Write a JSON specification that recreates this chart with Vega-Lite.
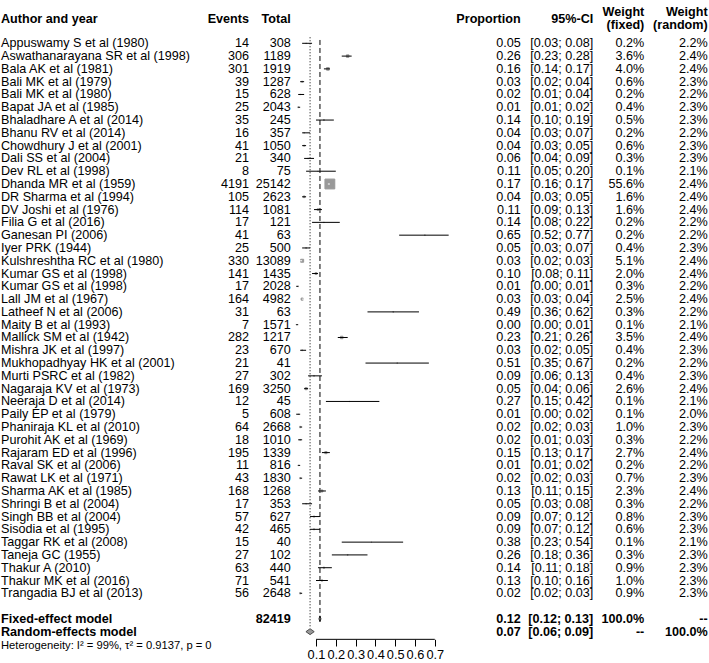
{
  "$schema": "https://vega.github.io/schema/vega-lite/v6.json",
  "width": 709,
  "height": 663,
  "autosize": {"type": "fit", "contains": "padding"},
  "padding": 0,
  "background": "white",
  "config": {
    "view": {"stroke": null},
    "font": "Liberation Sans",
    "text": {"font": "Liberation Sans", "fontSize": 12.6, "color": "black", "baseline": "middle"}
  },
  "datasets": {
    "rows": [
      {"row": 0, "author": "Appuswamy S et al (1980)", "events": 14, "total": 308, "prop": 0.05, "lo": 0.03, "hi": 0.08, "wf": 0.2, "wr": 2.2},
      {"row": 1, "author": "Aswathanarayana SR et al (1998)", "events": 306, "total": 1189, "prop": 0.26, "lo": 0.23, "hi": 0.28, "wf": 3.6, "wr": 2.4},
      {"row": 2, "author": "Bala AK et al (1981)", "events": 301, "total": 1919, "prop": 0.16, "lo": 0.14, "hi": 0.17, "wf": 4.0, "wr": 2.4},
      {"row": 3, "author": "Bali MK et al (1979)", "events": 39, "total": 1287, "prop": 0.03, "lo": 0.02, "hi": 0.04, "wf": 0.6, "wr": 2.3},
      {"row": 4, "author": "Bali MK et al (1980)", "events": 15, "total": 628, "prop": 0.02, "lo": 0.01, "hi": 0.04, "wf": 0.2, "wr": 2.2},
      {"row": 5, "author": "Bapat JA et al (1985)", "events": 25, "total": 2043, "prop": 0.01, "lo": 0.01, "hi": 0.02, "wf": 0.4, "wr": 2.3},
      {"row": 6, "author": "Bhaladhare A et al (2014)", "events": 35, "total": 245, "prop": 0.14, "lo": 0.10, "hi": 0.19, "wf": 0.5, "wr": 2.3},
      {"row": 7, "author": "Bhanu RV et al (2014)", "events": 16, "total": 357, "prop": 0.04, "lo": 0.03, "hi": 0.07, "wf": 0.2, "wr": 2.2},
      {"row": 8, "author": "Chowdhury J et al (2001)", "events": 41, "total": 1050, "prop": 0.04, "lo": 0.03, "hi": 0.05, "wf": 0.6, "wr": 2.3},
      {"row": 9, "author": "Dali SS et al (2004)", "events": 21, "total": 340, "prop": 0.06, "lo": 0.04, "hi": 0.09, "wf": 0.3, "wr": 2.3},
      {"row": 10, "author": "Dev RL et al (1998)", "events": 8, "total": 75, "prop": 0.11, "lo": 0.05, "hi": 0.20, "wf": 0.1, "wr": 2.1},
      {"row": 11, "author": "Dhanda MR et al (1959)", "events": 4191, "total": 25142, "prop": 0.17, "lo": 0.16, "hi": 0.17, "wf": 55.6, "wr": 2.4},
      {"row": 12, "author": "DR Sharma et al (1994)", "events": 105, "total": 2623, "prop": 0.04, "lo": 0.03, "hi": 0.05, "wf": 1.6, "wr": 2.4},
      {"row": 13, "author": "DV Joshi et al (1976)", "events": 114, "total": 1081, "prop": 0.11, "lo": 0.09, "hi": 0.13, "wf": 1.6, "wr": 2.4},
      {"row": 14, "author": "Filia G et al (2016)", "events": 17, "total": 121, "prop": 0.14, "lo": 0.08, "hi": 0.22, "wf": 0.2, "wr": 2.2},
      {"row": 15, "author": "Ganesan PI (2006)", "events": 41, "total": 63, "prop": 0.65, "lo": 0.52, "hi": 0.77, "wf": 0.2, "wr": 2.2},
      {"row": 16, "author": "Iyer PRK (1944)", "events": 25, "total": 500, "prop": 0.05, "lo": 0.03, "hi": 0.07, "wf": 0.4, "wr": 2.3},
      {"row": 17, "author": "Kulshreshtha RC et al (1980)", "events": 330, "total": 13089, "prop": 0.03, "lo": 0.02, "hi": 0.03, "wf": 5.1, "wr": 2.4},
      {"row": 18, "author": "Kumar GS et al (1998)", "events": 141, "total": 1435, "prop": 0.10, "lo": 0.08, "hi": 0.11, "wf": 2.0, "wr": 2.4},
      {"row": 19, "author": "Kumar GS et al (1998)", "events": 17, "total": 2028, "prop": 0.01, "lo": 0.00, "hi": 0.01, "wf": 0.3, "wr": 2.2},
      {"row": 20, "author": "Lall JM et al (1967)", "events": 164, "total": 4982, "prop": 0.03, "lo": 0.03, "hi": 0.04, "wf": 2.5, "wr": 2.4},
      {"row": 21, "author": "Latheef N et al (2006)", "events": 31, "total": 63, "prop": 0.49, "lo": 0.36, "hi": 0.62, "wf": 0.3, "wr": 2.2},
      {"row": 22, "author": "Maity B et al (1993)", "events": 7, "total": 1571, "prop": 0.00, "lo": 0.00, "hi": 0.01, "wf": 0.1, "wr": 2.1},
      {"row": 23, "author": "Mallick SM et al (1942)", "events": 282, "total": 1217, "prop": 0.23, "lo": 0.21, "hi": 0.26, "wf": 3.5, "wr": 2.4},
      {"row": 24, "author": "Mishra JK et al (1997)", "events": 23, "total": 670, "prop": 0.03, "lo": 0.02, "hi": 0.05, "wf": 0.4, "wr": 2.3},
      {"row": 25, "author": "Mukhopadhyay HK et al (2001)", "events": 21, "total": 41, "prop": 0.51, "lo": 0.35, "hi": 0.67, "wf": 0.2, "wr": 2.2},
      {"row": 26, "author": "Murti PSRC et al (1982)", "events": 27, "total": 302, "prop": 0.09, "lo": 0.06, "hi": 0.13, "wf": 0.4, "wr": 2.3},
      {"row": 27, "author": "Nagaraja KV et al (1973)", "events": 169, "total": 3250, "prop": 0.05, "lo": 0.04, "hi": 0.06, "wf": 2.6, "wr": 2.4},
      {"row": 28, "author": "Neeraja D et al (2014)", "events": 12, "total": 45, "prop": 0.27, "lo": 0.15, "hi": 0.42, "wf": 0.1, "wr": 2.1},
      {"row": 29, "author": "Paily EP et al (1979)", "events": 5, "total": 608, "prop": 0.01, "lo": 0.00, "hi": 0.02, "wf": 0.1, "wr": 2.0},
      {"row": 30, "author": "Phaniraja KL et al (2010)", "events": 64, "total": 2668, "prop": 0.02, "lo": 0.02, "hi": 0.03, "wf": 1.0, "wr": 2.3},
      {"row": 31, "author": "Purohit AK et al (1969)", "events": 18, "total": 1010, "prop": 0.02, "lo": 0.01, "hi": 0.03, "wf": 0.3, "wr": 2.2},
      {"row": 32, "author": "Rajaram ED et al (1996)", "events": 195, "total": 1339, "prop": 0.15, "lo": 0.13, "hi": 0.17, "wf": 2.7, "wr": 2.4},
      {"row": 33, "author": "Raval SK et al (2006)", "events": 11, "total": 816, "prop": 0.01, "lo": 0.01, "hi": 0.02, "wf": 0.2, "wr": 2.2},
      {"row": 34, "author": "Rawat LK et al (1971)", "events": 43, "total": 1830, "prop": 0.02, "lo": 0.02, "hi": 0.03, "wf": 0.7, "wr": 2.3},
      {"row": 35, "author": "Sharma AK et al (1985)", "events": 168, "total": 1268, "prop": 0.13, "lo": 0.11, "hi": 0.15, "wf": 2.3, "wr": 2.4},
      {"row": 36, "author": "Shringi B et al (2004)", "events": 17, "total": 353, "prop": 0.05, "lo": 0.03, "hi": 0.08, "wf": 0.3, "wr": 2.2},
      {"row": 37, "author": "Singh BB et al (2004)", "events": 57, "total": 627, "prop": 0.09, "lo": 0.07, "hi": 0.12, "wf": 0.8, "wr": 2.3},
      {"row": 38, "author": "Sisodia et al (1995)", "events": 42, "total": 465, "prop": 0.09, "lo": 0.07, "hi": 0.12, "wf": 0.6, "wr": 2.3},
      {"row": 39, "author": "Taggar RK et al (2008)", "events": 15, "total": 40, "prop": 0.38, "lo": 0.23, "hi": 0.54, "wf": 0.1, "wr": 2.1},
      {"row": 40, "author": "Taneja GC (1955)", "events": 27, "total": 102, "prop": 0.26, "lo": 0.18, "hi": 0.36, "wf": 0.3, "wr": 2.3},
      {"row": 41, "author": "Thakur A (2010)", "events": 63, "total": 440, "prop": 0.14, "lo": 0.11, "hi": 0.18, "wf": 0.9, "wr": 2.3},
      {"row": 42, "author": "Thakur MK et al (2016)", "events": 71, "total": 541, "prop": 0.13, "lo": 0.10, "hi": 0.16, "wf": 1.0, "wr": 2.3},
      {"row": 43, "author": "Trangadia BJ et al (2013)", "events": 56, "total": 2648, "prop": 0.02, "lo": 0.02, "hi": 0.03, "wf": 0.9, "wr": 2.3},
      {"row": 45, "author": "Fixed-effect model", "total": 82419, "prop": 0.12, "lo": 0.12, "hi": 0.13, "wf": 100.0, "wr": null},
      {"row": 46, "author": "Random-effects model", "total": null, "prop": 0.07, "lo": 0.06, "hi": 0.09, "wf": null, "wr": 100.0}
    ],
    "headers": [
      {"col": "author", "label": "Author and year"},
      {"col": "events", "label": "Events"},
      {"col": "total", "label": "Total"},
      {"col": "prop", "label": "Proportion"},
      {"col": "ci", "label": "95%-CI"},
      {"col": "wf", "label": ["Weight", "(fixed)"]},
      {"col": "wr", "label": ["Weight", "(random)"]}
    ],
    "notes": [
      {"label": "Heterogeneity: I² = 99%, τ² = 0.9137, p = 0"}
    ]
  },
  "resolve": {"scale": {"x": "independent"}, "axis": {"x": "independent"}},
  "layer": [
    {
      "layer": [
        {
          "data": {"name": "rows"},
          "transform": [{"filter": "datum.row == 46"}],
          "mark": {"type": "rule", "color": "black", "strokeWidth": 1, "strokeDash": [1, 2]},
          "encoding": {
            "x": {"field": "prop", "type": "quantitative",
              "scale": {"domain": [-1.496, 2.0848], "nice": false, "zero": false},
              "axis": {"orient": "bottom", "offset": -23.7, "values": [0.1, 0.2, 0.3, 0.4, 0.5, 0.6, 0.7], "format": ".1f",
                "domain": false, "grid": false, "title": null, "ticks": true, "tickColor": "black", "tickSize": 6.7, "tickWidth": 1,
                "labelFont": "Liberation Sans", "labelFontSize": 12.8, "labelColor": "black", "labelPadding": 2,
                "labelOverlap": false, "labelFlush": false, "labelBound": false}},
            "y": {"datum": -0.47, "type": "quantitative",
              "scale": {"domain": [-3.386, 48.45], "reverse": true, "nice": false, "zero": false}, "axis": null},
            "y2": {"datum": 45.72}
          }
        },
        {
          "data": {"name": "rows"},
          "transform": [{"filter": "datum.row == 45"}],
          "mark": {"type": "rule", "color": "black", "strokeWidth": 1, "strokeDash": [5, 3]},
          "encoding": {
            "x": {"field": "prop", "type": "quantitative"},
            "y": {"datum": -0.26, "type": "quantitative"},
            "y2": {"datum": 45.22}
          }
        },
        {
          "data": {"name": "rows"},
          "transform": [{"filter": "datum.row <= 43"}],
          "mark": {"type": "square", "filled": true, "color": "#999999", "stroke": "#999999", "strokeWidth": 1, "opacity": 1},
          "encoding": {
            "x": {"field": "prop", "type": "quantitative"},
            "y": {"field": "row", "type": "quantitative"},
            "size": {"field": "wf", "type": "quantitative", "scale": {"domain": [0, 55.6], "range": [0, 97], "zero": true}, "legend": null}
          }
        },
        {
          "data": {"name": "rows"},
          "transform": [{"filter": "datum.row <= 43"}],
          "mark": {"type": "rule", "strokeWidth": 1},
          "encoding": {
            "x": {"field": "lo", "type": "quantitative"},
            "x2": {"field": "hi"},
            "y": {"field": "row", "type": "quantitative"},
            "color": {"condition": {"test": "datum.hi - datum.lo < 0.015 && datum.wf > 2", "value": "white"}, "value": "black"}
          }
        },
        {
          "data": {"name": "rows"},
          "transform": [{"filter": "datum.row == 45"}],
          "mark": {"type": "point", "shape": "M-1,0L0,-3L1,0L0,3Z", "size": 4, "filled": true, "fill": "#999999", "stroke": "black", "strokeWidth": 0.8, "opacity": 1},
          "encoding": {
            "x": {"field": "prop", "type": "quantitative"},
            "y": {"field": "row", "type": "quantitative"}
          }
        },
        {
          "data": {"name": "rows"},
          "transform": [{"filter": "datum.row == 46"}],
          "mark": {"type": "point", "shape": "M-1,0L0,-0.72L1,0L0,0.72Z", "size": 69, "filled": true, "fill": "#999999", "stroke": "#333333", "strokeWidth": 0.8, "opacity": 1},
          "encoding": {
            "x": {"field": "prop", "type": "quantitative"},
            "y": {"field": "row", "type": "quantitative"}
          }
        },
        {
          "data": {"name": "notes"},
          "mark": {"type": "rule", "color": "black", "strokeWidth": 1},
          "encoding": {
            "x": {"datum": 0.1, "type": "quantitative"},
            "x2": {"datum": 0.7},
            "y": {"datum": 46.6, "type": "quantitative"}
          }
        }
      ]
    },
    {
      "layer": [
        {
          "data": {"name": "rows"},
          "mark": {"type": "text", "align": "left", "fontWeight": {"expr": "datum.row >= 45 ? 'bold' : 'normal'"}},
          "encoding": {
            "x": {"datum": 1, "type": "quantitative", "scale": {"domain": [0, 709], "nice": false, "zero": false}, "axis": null},
            "y": {"field": "row", "type": "quantitative"},
            "text": {"field": "author"}
          }
        },
        {
          "data": {"name": "rows"},
          "transform": [{"filter": "datum.events != null"}],
          "mark": {"type": "text", "align": "right"},
          "encoding": {
            "x": {"datum": 249, "type": "quantitative", "axis": null},
            "y": {"field": "row", "type": "quantitative"},
            "text": {"field": "events", "type": "quantitative", "format": "d"}
          }
        },
        {
          "data": {"name": "rows"},
          "transform": [{"filter": "datum.total != null"}],
          "mark": {"type": "text", "align": "right", "fontWeight": {"expr": "datum.row >= 45 ? 'bold' : 'normal'"}},
          "encoding": {
            "x": {"datum": 290.7, "type": "quantitative", "axis": null},
            "y": {"field": "row", "type": "quantitative"},
            "text": {"field": "total", "type": "quantitative", "format": "d"}
          }
        },
        {
          "data": {"name": "rows"},
          "mark": {"type": "text", "align": "right", "fontWeight": {"expr": "datum.row >= 45 ? 'bold' : 'normal'"}},
          "encoding": {
            "x": {"datum": 520.7, "type": "quantitative", "axis": null},
            "y": {"field": "row", "type": "quantitative"},
            "text": {"field": "prop", "type": "quantitative", "format": ".2f"}
          }
        },
        {
          "data": {"name": "rows"},
          "transform": [{"calculate": "'[' + format(datum.lo, '.2f') + '; ' + format(datum.hi, '.2f') + ']'", "as": "ci"}],
          "mark": {"type": "text", "align": "right", "fontWeight": {"expr": "datum.row >= 45 ? 'bold' : 'normal'"}},
          "encoding": {
            "x": {"datum": 593.3, "type": "quantitative", "axis": null},
            "y": {"field": "row", "type": "quantitative"},
            "text": {"field": "ci"}
          }
        },
        {
          "data": {"name": "rows"},
          "transform": [{"calculate": "datum.wf == null ? '--' : format(datum.wf, '.1f') + '%'", "as": "wfs"}],
          "mark": {"type": "text", "align": "right", "fontWeight": {"expr": "datum.row >= 45 ? 'bold' : 'normal'"}},
          "encoding": {
            "x": {"datum": 644.3, "type": "quantitative", "axis": null},
            "y": {"field": "row", "type": "quantitative"},
            "text": {"field": "wfs"}
          }
        },
        {
          "data": {"name": "rows"},
          "transform": [{"calculate": "datum.wr == null ? '--' : format(datum.wr, '.1f') + '%'", "as": "wrs"}],
          "mark": {"type": "text", "align": "right", "fontWeight": {"expr": "datum.row >= 45 ? 'bold' : 'normal'"}},
          "encoding": {
            "x": {"datum": 707.7, "type": "quantitative", "axis": null},
            "y": {"field": "row", "type": "quantitative"},
            "text": {"field": "wrs"}
          }
        },
        {
          "data": {"name": "headers"},
          "transform": [{"filter": "datum.col == 'author'"}],
          "mark": {"type": "text", "align": "left", "fontWeight": "bold"},
          "encoding": {
            "x": {"datum": 1, "type": "quantitative", "axis": null},
            "y": {"datum": -1.9, "type": "quantitative"},
            "text": {"field": "label"}
          }
        },
        {
          "data": {"name": "headers"},
          "transform": [{"filter": "datum.col == 'events'"}],
          "mark": {"type": "text", "align": "right", "fontWeight": "bold"},
          "encoding": {
            "x": {"datum": 249, "type": "quantitative", "axis": null},
            "y": {"datum": -1.9, "type": "quantitative"},
            "text": {"field": "label"}
          }
        },
        {
          "data": {"name": "headers"},
          "transform": [{"filter": "datum.col == 'total'"}],
          "mark": {"type": "text", "align": "right", "fontWeight": "bold"},
          "encoding": {
            "x": {"datum": 290.7, "type": "quantitative", "axis": null},
            "y": {"datum": -1.9, "type": "quantitative"},
            "text": {"field": "label"}
          }
        },
        {
          "data": {"name": "headers"},
          "transform": [{"filter": "datum.col == 'prop'"}],
          "mark": {"type": "text", "align": "right", "fontWeight": "bold"},
          "encoding": {
            "x": {"datum": 520.7, "type": "quantitative", "axis": null},
            "y": {"datum": -1.9, "type": "quantitative"},
            "text": {"field": "label"}
          }
        },
        {
          "data": {"name": "headers"},
          "transform": [{"filter": "datum.col == 'ci'"}],
          "mark": {"type": "text", "align": "right", "fontWeight": "bold"},
          "encoding": {
            "x": {"datum": 593.3, "type": "quantitative", "axis": null},
            "y": {"datum": -1.9, "type": "quantitative"},
            "text": {"field": "label"}
          }
        },
        {
          "data": {"name": "headers"},
          "transform": [{"filter": "datum.col == 'wf'"}],
          "mark": {"type": "text", "align": "right", "fontWeight": "bold", "lineHeight": 12.7},
          "encoding": {
            "x": {"datum": 644.3, "type": "quantitative", "axis": null},
            "y": {"datum": -2.45, "type": "quantitative"},
            "text": {"field": "label"}
          }
        },
        {
          "data": {"name": "headers"},
          "transform": [{"filter": "datum.col == 'wr'"}],
          "mark": {"type": "text", "align": "right", "fontWeight": "bold", "lineHeight": 12.7},
          "encoding": {
            "x": {"datum": 707.7, "type": "quantitative", "axis": null},
            "y": {"datum": -2.45, "type": "quantitative"},
            "text": {"field": "label"}
          }
        },
        {
          "data": {"name": "notes"},
          "mark": {"type": "text", "align": "left", "fontSize": 11.2},
          "encoding": {
            "x": {"datum": 1, "type": "quantitative", "axis": null},
            "y": {"datum": 47.1, "type": "quantitative"},
            "text": {"field": "label"}
          }
        }
      ]
    }
  ]
}
